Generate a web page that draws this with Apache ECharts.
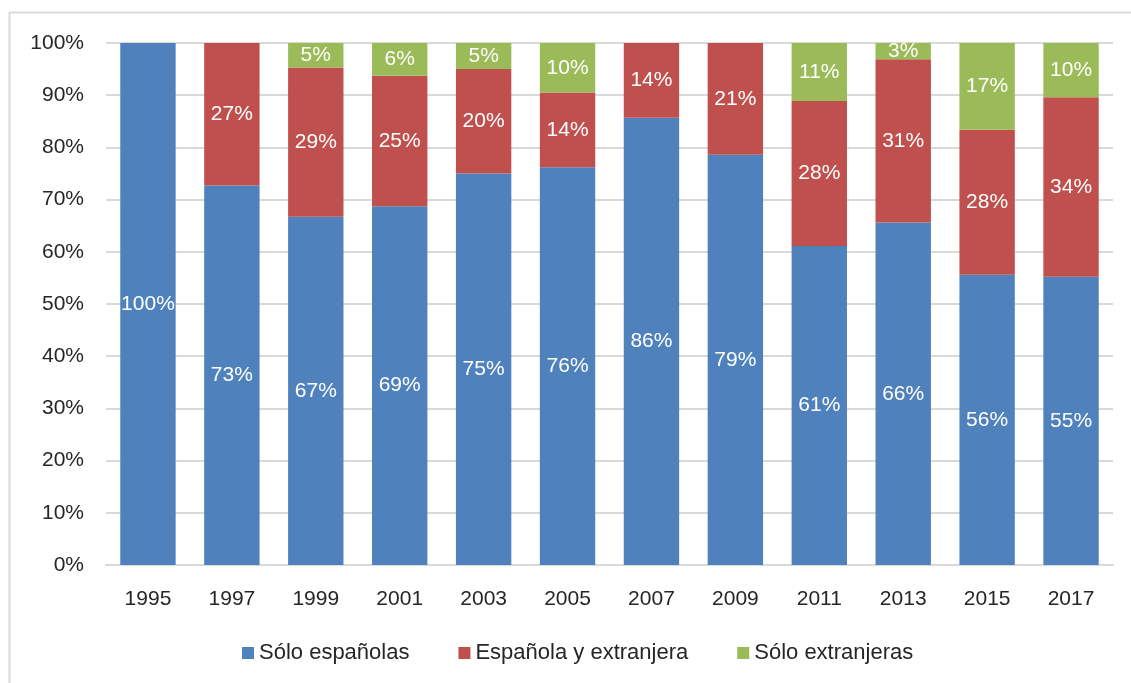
<!DOCTYPE html>
<html>
<head>
<meta charset="utf-8">
<script src="https://cdn.jsdelivr.net/npm/echarts@6/dist/echarts.min.js"></script>
<style>html,body{margin:0;padding:0;background:#fff}#c{width:1131px;height:683px}</style>
</head>
<body>
<div id="c"></div>
<script>
const categories = ['1995','1997','1999','2001','2003','2005','2007','2009','2011','2013','2015','2017'];
const soloEspanolas = [100, 72.7, 66.7, 68.75, 75, 76.2, 85.7, 78.6, 61.1, 65.6, 55.6, 55.2];
const espanolaExtranjera = [0, 27.3, 28.6, 25, 20, 14.3, 14.3, 21.4, 27.8, 31.3, 27.8, 34.4];
const soloExtranjeras = [0, 0, 4.7, 6.25, 5, 9.5, 0, 0, 11.1, 3.1, 16.6, 10.4];
const seriesNames = ['Sólo españolas', 'Española y extranjera', 'Sólo extranjeras'];
const colors = ['#4f81bd', '#c0504d', '#9bbb59'];

const font = "'Liberation Sans', sans-serif";
const chart = echarts.init(document.getElementById('c'), null, {renderer: 'canvas'});
const mk = (name, data, color) => ({
  name, type: 'bar', stack: 'total', data,
  barWidth: '66%',
  itemStyle: {color},
  label: {
    show: true, position: 'inside', color: '#fff',
    fontFamily: font, fontSize: 21,
    formatter: p => p.value > 0 ? Math.round(p.value) + '%' : ''
  }
});
chart.setOption({
  animation: false,
  backgroundColor: '#fff',
  textStyle: {fontFamily: font},
  graphic: [
    {type: 'line', shape: {x1: 9, y1: 12.5, x2: 1131, y2: 12.5}, style: {stroke: '#d9d9d9', lineWidth: 2}},
    {type: 'line', shape: {x1: 9.5, y1: 12, x2: 9.5, y2: 683}, style: {stroke: '#d9d9d9', lineWidth: 2}}
  ],
  grid: {left: 106, right: 18, top: 43, bottom: 118, containLabel: false},
  legend: {
    data: seriesNames, top: 637, left: 237,
    itemWidth: 12, itemHeight: 12, itemGap: 49, icon: 'rect',
    textStyle: {fontFamily: font, fontSize: 22, color: '#262626'}
  },
  xAxis: {
    type: 'category', data: categories,
    axisLine: {lineStyle: {color: '#d9d9d9', width: 2}},
    axisTick: {show: false},
    axisLabel: {color: '#262626', fontSize: 21, fontFamily: font, margin: 24}
  },
  yAxis: {
    type: 'value', min: 0, max: 100, interval: 10,
    axisLine: {show: false}, axisTick: {show: false},
    splitLine: {lineStyle: {color: '#d9d9d9', width: 2}},
    axisLabel: {color: '#262626', fontSize: 21, fontFamily: font, margin: 22, formatter: v => v + '%'}
  },
  series: [
    mk(seriesNames[0], soloEspanolas, colors[0]),
    mk(seriesNames[1], espanolaExtranjera, colors[1]),
    mk(seriesNames[2], soloExtranjeras, colors[2])
  ]
});
</script>
</body>
</html>
